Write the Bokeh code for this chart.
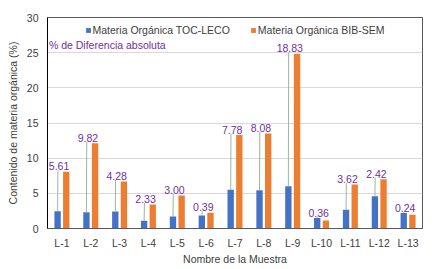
from bokeh.plotting import figure
from bokeh.models import ColumnDataSource, Legend, LegendItem, Label, Range1d, FactorRange
from bokeh.transform import dodge
from bokeh.embed import file_html
from bokeh.resources import INLINE

# ---- data ----
categories = ["L-1", "L-2", "L-3", "L-4", "L-5", "L-6", "L-7", "L-8", "L-9", "L-10", "L-11", "L-12", "L-13"]
toc_leco = [2.45, 2.30, 2.40, 1.10, 1.70, 1.85, 5.50, 5.43, 6.00, 1.48, 2.65, 4.60, 2.20]
bib_sem = [8.06, 12.12, 6.68, 3.43, 4.70, 2.24, 13.28, 13.51, 24.83, 1.12, 6.27, 7.02, 1.96]
diff_labels = ["5.61", "9.82", "4.28", "2.33", "3.00", "0.39", "7.78", "8.08", "18.83", "0.36", "3.62", "2.42", "0.24"]
y_ticks = [0, 5, 10, 15, 20, 25, 30]

FONT = "Liberation Sans"
BLUE = "#4472C4"
ORANGE = "#ED7D31"
PURPLE = "#7030A0"
TXT = "#404040"

top = [max(a, b) for a, b in zip(toc_leco, bib_sem)]
src = ColumnDataSource(dict(cat=categories, toc=toc_leco, bib=bib_sem, lab=diff_labels,
                            top=top, laby=[t + 0.2 for t in top]))

p = figure(x_range=FactorRange(*categories), y_range=Range1d(0, 30),
           width=443, height=269, output_backend="svg", toolbar_location=None,
           min_border_left=47, min_border_right=21, min_border_top=17, min_border_bottom=41)
p.x_range.range_padding = 0
p.x_range.factor_padding = 0

b1 = p.vbar(x=dodge("cat", -0.15, range=p.x_range), top="toc", width=0.22, source=src,
            fill_color=BLUE, line_color=None)
b2 = p.vbar(x=dodge("cat", 0.15, range=p.x_range), top="bib", width=0.22, source=src,
            fill_color=ORANGE, line_color=None)

p.segment(x0=dodge("cat", -0.15, range=p.x_range), y0="toc",
          x1=dodge("cat", -0.14, range=p.x_range), y1="laby", source=src,
          line_color="#a0b4a0", line_width=1)

p.text(x=dodge("cat", -0.1, range=p.x_range), y="laby", text="lab", source=src,
       text_align="center", text_baseline="bottom", text_color=PURPLE,
       text_font_size="10.5px", text_font={"value": FONT})

p.add_layout(Label(x=0.05, y=26.1, text="% de Diferencia absoluta", text_color=PURPLE,
                   text_font_size="10.5px", text_font=FONT, text_baseline="middle"))

legend = Legend(items=[LegendItem(label="Materia Orgánica TOC-LECO", renderers=[b1]),
                       LegendItem(label="Materia Orgánica BIB-SEM", renderers=[b2])],
                orientation="horizontal", location="top_center",
                border_line_alpha=0, background_fill_alpha=0,
                label_text_font_size="10.5px", label_text_font=FONT, label_text_color=TXT,
                glyph_width=6, glyph_height=6, label_standoff=2, spacing=20,
                padding=0, margin=7, label_height=10)
p.add_layout(legend)

p.yaxis.ticker = y_ticks
p.yaxis.axis_label = "Contenido de materia orgánica (%)"
p.xaxis.axis_label = "Nombre de la Muestra"
for ax in (p.xaxis, p.yaxis):
    ax.major_tick_line_color = None
    ax.minor_tick_line_color = None
    ax.major_tick_out = 0
    ax.major_tick_in = 0
    ax.minor_tick_out = 0
    ax.minor_tick_in = 0
    ax.major_label_text_font = FONT
    ax.major_label_text_font_size = "10.5px"
    ax.major_label_text_color = TXT
    ax.axis_label_text_font = FONT
    ax.axis_label_text_font_size = "10.5px"
    ax.axis_label_text_font_style = "normal"
    ax.axis_label_text_color = TXT
p.yaxis.axis_line_color = "#000000"
p.xaxis.axis_line_color = "#595959"
p.yaxis.major_label_standoff = 9
p.xaxis.major_label_standoff = 8
p.yaxis.axis_label_standoff = 5
p.xaxis.axis_label_standoff = 1

p.xgrid.grid_line_color = None
p.ygrid.grid_line_color = "#d9d9d9"
p.outline_line_color = "#595959"
p.outline_line_width = 1

open("out.html", "w").write(file_html(p, INLINE))
